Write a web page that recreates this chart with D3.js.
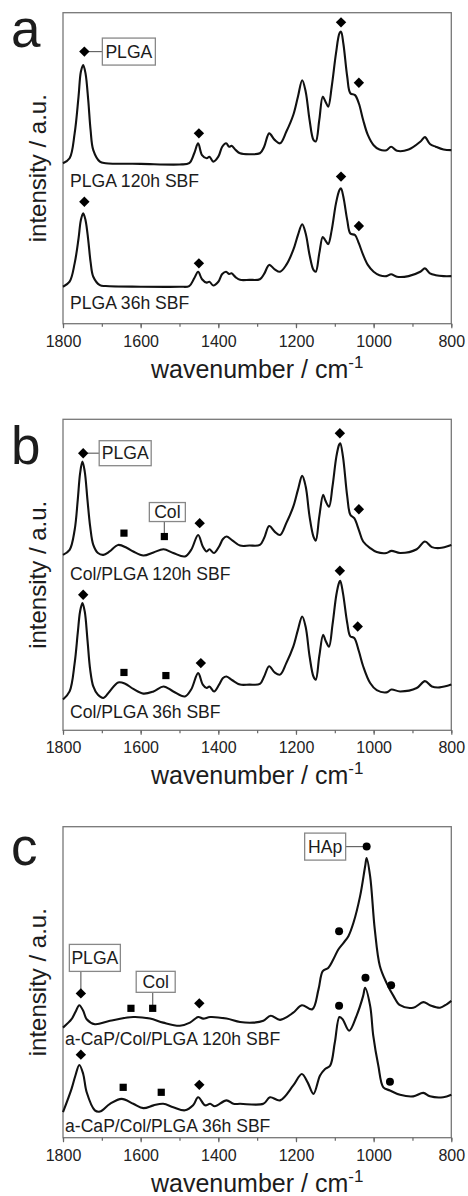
<!DOCTYPE html>
<html><head><meta charset="utf-8">
<script src="https://cdn.jsdelivr.net/npm/d3@7"></script>
<style>
html,body{margin:0;padding:0;background:#fff;}
svg text{font-family:"Liberation Sans",Arial,Helvetica,sans-serif;fill:#1c1c1c;}
</style>
</head><body>
<script>
// ---------------- DATA ----------------
const panelLetters = ["a", "b", "c"];
const xTickValues = [1800, 1600, 1400, 1200, 1000, 800];
const xMinorTickValues = [1800, 1700, 1600, 1500, 1400, 1300, 1200, 1100, 1000, 900, 800];
const xTitle = "wavenumber / cm";
const yTitle = "intensity / a.u.";
const seriesLabels = [
  ["PLGA 120h SBF", "PLGA 36h SBF"],
  ["Col/PLGA 120h SBF", "Col/PLGA 36h SBF"],
  ["a-CaP/Col/PLGA 120h SBF", "a-CaP/Col/PLGA 36h SBF"]
];

// spectra: [wavenumber, intensity (a.u., offset included)]
const aTop = [[1800,51.6],[1783,53.2],[1770,61.2],[1760,73.0],[1754,81.0],[1748,83.2],[1742,80.5],[1735,71.9],[1729,62.3],[1722,55.8],[1705,52.1],[1690,51.6],[1600,51.4],[1500,51.2],[1475,51.6],[1462,54.8],[1452,58.0],[1442,54.2],[1430,53.2],[1423,53.7],[1413,52.1],[1400,53.7],[1390,56.9],[1380,58.0],[1372,56.9],[1366,57.2],[1355,55.8],[1344,54.8],[1320,54.5],[1293,54.8],[1282,56.9],[1269,61.2],[1255,59.1],[1241,58.0],[1225,61.7],[1207,67.1],[1195,73.0],[1184,78.3],[1175,74.6],[1165,65.5],[1155,59.1],[1149,58.6],[1140,65.5],[1131,73.0],[1124,71.4],[1117,69.8],[1108,76.2],[1097,86.9],[1088,93.4],[1084,93.9],[1078,90.1],[1068,79.4],[1060,74.1],[1048,73.5],[1038,70.8],[1027,65.5],[1015,60.7],[1000,57.4],[985,56.0],[967,55.8],[955,56.9],[940,55.6],[910,56.0],[880,58.5],[868,60.0],[855,57.8],[840,56.9],[820,56.0],[800,55.8]];
const aBottom = [[1800,11.9],[1783,13.5],[1770,19.4],[1760,27.4],[1754,33.3],[1748,35.5],[1742,33.3],[1735,26.9],[1729,19.9],[1722,15.1],[1705,12.4],[1690,12.1],[1600,11.9],[1500,11.9],[1475,12.1],[1462,14.6],[1452,16.7],[1442,14.3],[1430,13.2],[1423,13.5],[1413,12.3],[1400,13.5],[1390,16.0],[1380,16.7],[1372,16.0],[1366,16.2],[1355,14.9],[1344,14.1],[1320,14.1],[1293,14.3],[1282,16.0],[1269,18.9],[1255,17.5],[1241,16.7],[1225,18.9],[1207,23.7],[1195,28.5],[1184,32.0],[1175,29.0],[1165,22.1],[1155,17.3],[1149,16.7],[1140,22.6],[1131,27.9],[1124,26.7],[1117,25.6],[1108,30.1],[1097,38.7],[1088,43.0],[1084,43.5],[1078,40.8],[1068,33.3],[1060,29.0],[1048,28.5],[1038,25.8],[1027,22.1],[1015,18.9],[1000,16.7],[985,15.6],[967,15.3],[955,15.9],[940,15.1],[910,15.3],[880,16.7],[868,17.8],[855,16.2],[840,15.6],[820,15.3],[800,15.3]];
const bTop = [[1800,56.4],[1783,58.0],[1770,64.4],[1762,74.1],[1756,82.6],[1750,86.4],[1744,83.2],[1737,74.1],[1730,65.5],[1722,59.6],[1710,57.0],[1696,56.4],[1680,57.5],[1658,59.6],[1635,58.6],[1619,57.5],[1593,56.2],[1567,57.2],[1541,58.2],[1516,57.0],[1486,55.9],[1470,58.0],[1452,62.8],[1440,59.1],[1430,57.5],[1423,58.2],[1411,57.0],[1398,59.1],[1388,61.5],[1379,62.3],[1364,61.1],[1344,59.4],[1320,59.4],[1293,59.6],[1282,61.8],[1269,65.7],[1255,63.9],[1241,62.8],[1225,66.6],[1207,71.9],[1195,77.3],[1184,81.8],[1175,78.4],[1165,68.7],[1155,62.3],[1149,61.0],[1140,68.7],[1130,75.7],[1124,73.8],[1115,71.9],[1106,78.4],[1096,88.0],[1089,91.8],[1086,92.3],[1079,88.0],[1068,75.2],[1060,69.3],[1050,68.2],[1038,64.4],[1027,60.7],[1009,58.6],[992,57.3],[967,57.0],[954,57.7],[932,57.0],[889,58.2],[868,60.7],[850,58.9],[830,58.6],[800,59.6]];
const bBottom = [[1800,9.9],[1783,12.5],[1770,21.6],[1762,31.3],[1756,38.2],[1750,40.9],[1744,38.2],[1737,29.1],[1730,19.5],[1722,14.1],[1710,11.4],[1696,10.4],[1680,12.5],[1658,15.4],[1640,15.0],[1619,13.3],[1593,11.8],[1567,12.5],[1541,14.1],[1516,12.5],[1486,10.9],[1470,13.1],[1452,18.4],[1440,14.7],[1430,13.6],[1423,14.1],[1411,12.5],[1398,14.7],[1388,16.8],[1379,17.3],[1364,16.1],[1344,14.7],[1320,14.7],[1293,14.9],[1282,17.3],[1269,20.6],[1255,18.6],[1241,17.9],[1225,21.6],[1207,26.9],[1195,32.3],[1184,36.6],[1175,33.2],[1165,23.8],[1155,17.3],[1149,16.3],[1140,23.8],[1130,30.7],[1124,28.9],[1115,26.9],[1106,33.9],[1096,43.6],[1089,47.5],[1086,48.1],[1079,44.1],[1068,34.5],[1060,30.2],[1050,29.7],[1038,25.4],[1027,20.6],[1009,15.2],[992,12.9],[967,12.2],[954,13.1],[932,12.5],[889,13.6],[868,15.8],[850,14.1],[830,13.8],[800,14.7]];
const cTop = [[1800,35.4],[1778,38.1],[1768,40.4],[1758,42.6],[1748,40.8],[1739,38.1],[1718,36.5],[1679,37.6],[1619,38.8],[1576,38.3],[1542,37.0],[1499,36.0],[1473,37.0],[1452,38.8],[1439,38.3],[1421,38.8],[1379,38.3],[1344,37.2],[1310,37.0],[1284,37.6],[1265,39.2],[1241,37.9],[1207,40.2],[1185,42.6],[1158,41.3],[1142,47.7],[1131,53.6],[1117,54.6],[1104,57.3],[1091,60.5],[1078,62.6],[1065,64.8],[1052,69.1],[1035,77.6],[1022,87.2],[1018,89.9],[1009,84.0],[997,66.9],[984,55.2],[967,49.8],[949,45.6],[932,42.6],[898,41.8],[872,43.6],[855,42.6],[829,41.8],[812,42.9],[800,44.0]];
const cBottom = [[1800,8.2],[1778,15.7],[1768,20.0],[1758,23.4],[1748,20.5],[1739,14.6],[1718,8.8],[1705,8.4],[1679,10.9],[1649,12.5],[1619,10.9],[1593,9.5],[1567,10.4],[1542,10.9],[1516,9.8],[1486,8.8],[1465,10.4],[1452,13.0],[1434,10.4],[1421,10.9],[1409,10.1],[1379,12.0],[1361,10.9],[1344,10.9],[1284,10.9],[1267,13.0],[1241,12.0],[1207,16.8],[1185,20.5],[1170,17.8],[1155,14.1],[1138,20.0],[1125,22.1],[1112,23.2],[1100,30.6],[1088,38.8],[1080,38.1],[1063,34.4],[1044,39.2],[1027,45.6],[1022,48.2],[1009,42.4],[1001,32.8],[988,23.2],[975,16.2],[958,15.2],[932,13.8],[898,13.3],[872,14.4],[855,13.3],[821,13.0],[800,13.8]];

// band markers: [wavenumber, intensity, shape]
const aMarkers = [[1745,87.5,"diamond"],[1450,61.2,"diamond"],[1084,96.9,"diamond"],[1038,77.5,"diamond"],
                  [1745,39.2,"diamond"],[1450,19.4,"diamond"],[1084,47.3,"diamond"],[1038,31.4,"diamond"]];
const bMarkers = [[1748,89.1,"diamond"],[1643,63.4,"square"],[1539,62.3,"square"],[1448,66.6,"diamond"],[1087,95.5,"diamond"],[1038,71.1,"diamond"],
                  [1748,43.6,"diamond"],[1643,18.6,"square"],[1535,17.6,"square"],[1445,21.6,"diamond"],[1087,51.3,"diamond"],[1041,33.4,"diamond"]];
const cMarkers = [[1754,46.4,"diamond"],[1625,41.6,"square"],[1569,41.6,"square"],[1449,43.2,"diamond"],[1089,66.4,"circle"],[1018,93.6,"circle"],[955,49.0,"circle"],
                  [1754,26.7,"diamond"],[1645,16.2,"square"],[1547,14.6,"square"],[1449,17.0,"diamond"],[1089,42.4,"circle"],[1021,51.4,"circle"],[958,18.0,"circle"]];

// annotation labels: [text, marker index, direction]
const aNotes = [["PLGA", 0, "right"]];
const bNotes = [["PLGA", 0, "right"], ["Col", 2, "up"]];
const cNotes = [["PLGA", 0, "up"], ["Col", 2, "up"], ["HAp", 5, "left"]];

// ---------------- LAYOUT ----------------
const W = 468, H = 1196;
const left = 63, right = 451.3, frameH = 311;
const panels = [
  {top: 12.7,  letterY: 47,  spectra: [aTop, aBottom], markers: aMarkers, notes: aNotes, labelY: [174.6, 296.6], labelX: 70,
   noteGeom: [{gap: 18, w: 53, h: 27, dx: 0}]},
  {top: 419.3, letterY: 464, spectra: [bTop, bBottom], markers: bMarkers, notes: bNotes, labelY: [160.7, 299], labelX: 70,
   noteGeom: [{gap: 16, w: 52, h: 25, dx: 0}, {gap: 15, w: 36, h: 19, dx: 3}]},
  {top: 826.7, letterY: 865, spectra: [cTop, cBottom], markers: cMarkers, notes: cNotes, labelY: [218.3, 305], labelX: 65,
   noteGeom: [{gap: 22, w: 51, h: 27, dx: 14}, {gap: 16, w: 39, h: 21, dx: 3}, {gap: 21, w: 41, h: 27, dx: 0}]}
];

const svg = d3.select("body").append("svg").attr("width", W).attr("height", H);
const x = d3.scaleLinear().domain([1800, 800]).range([left, right]);

panels.forEach((p, i) => {
  const y = d3.scaleLinear().domain([0, 100]).range([p.top + frameH, p.top]);
  const g = svg.append("g");

  // frame
  g.append("rect").attr("x", left).attr("y", p.top).attr("width", right - left).attr("height", frameH)
    .attr("fill", "none").attr("stroke", "#777").attr("stroke-width", 1.3);

  // axes
  const minor = d3.axisBottom(x).tickValues(xMinorTickValues).tickSize(3).tickFormat("");
  const major = d3.axisBottom(x).tickValues(xTickValues).tickSize(4.5).tickPadding(7).tickFormat(d3.format("d"));
  const gm = g.append("g").attr("transform", `translate(0,${p.top + frameH})`).call(minor);
  const gM = g.append("g").attr("transform", `translate(0,${p.top + frameH})`).call(major);
  [gm, gM].forEach(ax => {
    ax.select(".domain").remove();
    ax.selectAll("line").attr("stroke", "#666").attr("stroke-width", 1.2);
  });
  gM.selectAll("text").attr("font-size", 16).style("fill", "#222").attr("font-family", null);

  // x title
  const xt = g.append("text").attr("x", (left + right) / 2).attr("y", p.top + frameH + 54)
    .attr("text-anchor", "middle").attr("font-size", 25);
  xt.append("tspan").text(xTitle);
  xt.append("tspan").attr("font-size", 17).attr("dy", -10).text("-1");

  // y title
  g.append("text").attr("transform", `translate(46,${p.top + frameH / 2}) rotate(-90)`)
    .attr("text-anchor", "middle").attr("font-size", 24).text(yTitle);

  // panel letter
  g.append("text").attr("x", 11).attr("y", p.letterY).attr("font-size", 53).text(panelLetters[i]);

  // spectra
  const line = d3.line().x(d => x(d[0])).y(d => y(d[1])).curve(d3.curveCatmullRom.alpha(0.5));
  p.spectra.forEach(s => {
    g.append("path").datum(s).attr("d", line).attr("fill", "none")
      .attr("stroke", "#111").attr("stroke-width", 2.1).attr("stroke-linejoin", "round");
  });

  // series labels
  seriesLabels[i].forEach((t, k) => {
    g.append("text").attr("x", p.labelX).attr("y", p.top + p.labelY[k]).attr("font-size", 17.6).text(t);
  });

  // annotation boxes
  p.notes.forEach((n, k) => {
    const m = p.markers[n[1]];
    const mx = x(m[0]), my = y(m[1]);
    const ng = p.noteGeom[k];
    let bx, by, lx1, ly1, lx2, ly2;
    if (n[2] === "right") {
      bx = mx + ng.gap; by = my - ng.h / 2; lx1 = mx; ly1 = my; lx2 = bx; ly2 = my;
    } else if (n[2] === "left") {
      bx = mx - ng.gap - ng.w; by = my - ng.h / 2; lx1 = mx; ly1 = my; lx2 = bx + ng.w; ly2 = my;
    } else {
      bx = mx + ng.dx - ng.w / 2; by = my - ng.gap - ng.h; lx1 = mx; ly1 = my; lx2 = mx; ly2 = by + ng.h;
    }
    g.append("line").attr("x1", lx1).attr("y1", ly1).attr("x2", lx2).attr("y2", ly2)
      .attr("stroke", "#666").attr("stroke-width", 1.2);
    g.append("rect").attr("x", bx).attr("y", by).attr("width", ng.w).attr("height", ng.h)
      .attr("fill", "#fff").attr("stroke", "#888").attr("stroke-width", 1.3);
    g.append("text").attr("x", bx + ng.w / 2).attr("y", by + ng.h / 2 + 6).attr("text-anchor", "middle")
      .attr("font-size", 17.6).text(n[0]);
  });

  // markers
  p.markers.forEach(m => {
    const mx = x(m[0]), my = y(m[1]);
    if (m[2] === "diamond") {
      const r = 5.2;
      g.append("path").attr("d", `M${mx},${my - r}L${mx + r},${my}L${mx},${my + r}L${mx - r},${my}Z`).attr("fill", "#000");
    } else if (m[2] === "square") {
      g.append("rect").attr("x", mx - 3.6).attr("y", my - 3.6).attr("width", 7.2).attr("height", 7.2).attr("fill", "#000");
    } else {
      g.append("circle").attr("cx", mx).attr("cy", my).attr("r", 4).attr("fill", "#000");
    }
  });
});
</script>
</body></html>
